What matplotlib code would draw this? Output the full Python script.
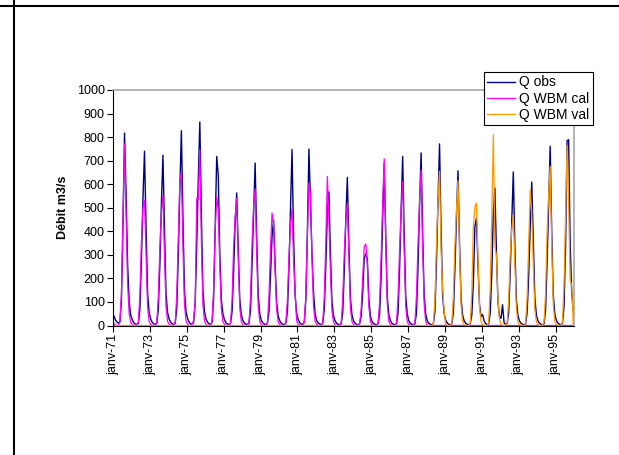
import numpy as np
import matplotlib.pyplot as plt
from matplotlib.lines import Line2D

plt.rcParams['font.family'] = ['Liberation Sans', 'DejaVu Sans']

# monthly discharge, janv-71 .. déc-95 (one row per year)
q_obs = [
    42, 25, 15, 10, 15, 110, 430, 817, 560, 260, 100, 45,    # 1971
    25, 12, 6, 4, 10, 70, 280, 540, 740, 420, 140, 55,       # 1972
    28, 14, 7, 4, 10, 70, 260, 520, 723, 410, 135, 55,       # 1973
    28, 14, 7, 4, 10, 75, 300, 580, 827, 460, 150, 60,       # 1974
    30, 15, 7, 4, 15, 100, 350, 620, 864, 470, 150, 60,      # 1975
    28, 14, 7, 4, 15, 120, 420, 718, 638, 300, 110, 50,      # 1976
    25, 12, 6, 4, 10, 60, 230, 440, 563, 320, 110, 45,       # 1977
    22, 11, 6, 4, 10, 65, 260, 480, 690, 380, 125, 50,       # 1978
    22, 11, 6, 4, 10, 60, 210, 380, 447, 260, 95, 40,        # 1979
    20, 10, 5, 3, 10, 60, 240, 490, 747, 380, 130, 50,       # 1980
    25, 12, 6, 4, 15, 110, 400, 749, 520, 300, 140, 50,      # 1981
    22, 11, 6, 4, 10, 70, 260, 480, 567, 300, 100, 42,       # 1982
    20, 10, 5, 3, 8, 55, 230, 450, 629, 340, 115, 45,        # 1983
    20, 10, 5, 3, 8, 40, 140, 285, 304, 284, 110, 40,        # 1984
    18, 9, 5, 3, 8, 50, 210, 460, 690, 370, 120, 45,         # 1985
    20, 10, 5, 3, 8, 55, 240, 490, 718, 380, 125, 48,        # 1986
    20, 10, 5, 3, 8, 55, 250, 510, 733, 390, 125, 48,        # 1987
    20, 10, 5, 3, 8, 60, 270, 530, 771, 400, 130, 50,        # 1988
    22, 11, 5, 3, 8, 55, 240, 460, 657, 350, 115, 45,        # 1989
    20, 10, 5, 3, 8, 45, 180, 420, 456, 260, 90, 38,         # 1990
    46, 20, 8, 4, 8, 55, 220, 480, 584, 320, 100, 40,        # 1991
    30, 88, 12, 4, 8, 55, 230, 440, 652, 340, 110, 42,       # 1992
    20, 10, 5, 3, 8, 55, 210, 420, 609, 370, 120, 45,        # 1993
    20, 10, 5, 3, 8, 65, 270, 520, 761, 400, 130, 50,        # 1994
    22, 11, 5, 3, 10, 80, 330, 785, 789, 350, 140, 66,       # 1995
]

# calibration run 1971-1987, zero afterwards
q_cal = [
    10, 2, 0, 0, 15, 140, 460, 771, 480, 180, 50, 12,        # 1971
    5, 1, 0, 0, 15, 130, 360, 500, 532, 300, 80, 18,         # 1972
    5, 1, 0, 0, 12, 120, 330, 480, 553, 300, 80, 18,         # 1973
    5, 1, 0, 0, 15, 130, 380, 620, 652, 340, 90, 20,         # 1974
    5, 1, 0, 0, 25, 100, 541, 535, 747, 360, 90, 20,         # 1975
    5, 1, 0, 0, 20, 160, 400, 548, 486, 260, 70, 16,         # 1976
    5, 1, 0, 0, 12, 110, 340, 460, 541, 290, 75, 16,         # 1977
    5, 1, 0, 0, 12, 120, 350, 510, 581, 310, 80, 18,         # 1978
    5, 1, 0, 0, 12, 120, 330, 478, 430, 230, 65, 15,         # 1979
    4, 1, 0, 0, 12, 110, 290, 430, 496, 280, 140, 20,        # 1980
    5, 1, 0, 0, 15, 130, 380, 605, 560, 290, 80, 18,         # 1981
    5, 1, 0, 0, 12, 120, 360, 633, 450, 230, 60, 14,         # 1982
    4, 1, 0, 0, 12, 110, 310, 440, 520, 290, 75, 16,         # 1983
    4, 1, 0, 0, 8, 70, 200, 335, 346, 260, 80, 16,           # 1984
    4, 1, 0, 0, 10, 100, 300, 520, 708, 360, 90, 18,         # 1985
    4, 1, 0, 0, 12, 120, 320, 490, 612, 320, 80, 16,         # 1986
    4, 1, 0, 0, 12, 130, 350, 530, 660, 340, 90, 18,         # 1987
] + [0] * 96

# validation run 1988-1995, zero before
q_val = [0] * 204 + [
    2, 0, 0, 0, 10, 110, 350, 530, 655, 320, 160, 60,        # 1988
    4, 1, 0, 0, 12, 120, 340, 490, 615, 320, 85, 18,         # 1989
    4, 1, 0, 0, 12, 140, 420, 506, 520, 290, 80, 16,         # 1990
    4, 1, 0, 0, 15, 170, 470, 810, 337, 300, 110, 25,        # 1991
    5, 1, 0, 0, 12, 110, 300, 410, 471, 270, 70, 15,         # 1992
    4, 1, 0, 0, 12, 120, 350, 577, 480, 260, 70, 15,         # 1993
    4, 1, 0, 0, 15, 140, 400, 560, 676, 340, 90, 18,         # 1994
    5, 1, 0, 0, 15, 170, 470, 765, 520, 190, 172, 0,         # 1995
]

tick_labels = ['janv-%02d' % y for y in range(71, 96, 2)]

x = np.arange(len(q_obs)) + 0.5

fig = plt.figure(figsize=(6.19, 4.55), dpi=100)
ax = fig.add_axes([113 / 619, 1 - 325.5 / 455, 461 / 619, 235.5 / 455])

ax.plot(x, q_obs, color='#000080', lw=1.0, label='Q obs', clip_on=False)
ax.plot(x, q_cal, color='#FF00FF', lw=0.9, label='Q WBM cal', clip_on=False)
ax.plot(x, q_val, color='#FF9900', lw=0.9, label='Q WBM val', clip_on=False)

ax.set_xlim(0, 300)
ax.set_ylim(0, 1000)
ax.set_yticks(np.arange(0, 1001, 100))
ax.set_xticks(np.arange(0, 300, 24))
ax.set_xticklabels(tick_labels, rotation=90)
ax.tick_params(axis='both', labelsize=9, direction='out', length=4, width=0.8, pad=2)

for s in ('top', 'right'):
    ax.spines[s].set_color('#A0A0A0')
    ax.spines[s].set_linewidth(1.1)
for s in ('left', 'bottom'):
    ax.spines[s].set_color('black')
    ax.spines[s].set_linewidth(0.8)

ax.set_ylabel('Débit m3/s', fontsize=9, fontweight='bold')
ax.yaxis.set_label_coords(-0.095, 0.5)

leg = fig.legend(loc='upper left', bbox_to_anchor=(484 / 619, 1 - 72 / 455),
                 fontsize=10, frameon=True, fancybox=False, edgecolor='black',
                 framealpha=1, borderpad=0.25, labelspacing=0.15,
                 handlelength=2.0, handletextpad=0.3, borderaxespad=0)
leg.get_frame().set_linewidth(0.8)

# page frame lines
fig.add_artist(Line2D([0, 1], [1 - 5.7 / 455] * 2, transform=fig.transFigure,
                      color='black', lw=1.5))
fig.add_artist(Line2D([14 / 619] * 2, [0, 1], transform=fig.transFigure,
                      color='black', lw=1.5))

fig.savefig('out.png', dpi=100)
